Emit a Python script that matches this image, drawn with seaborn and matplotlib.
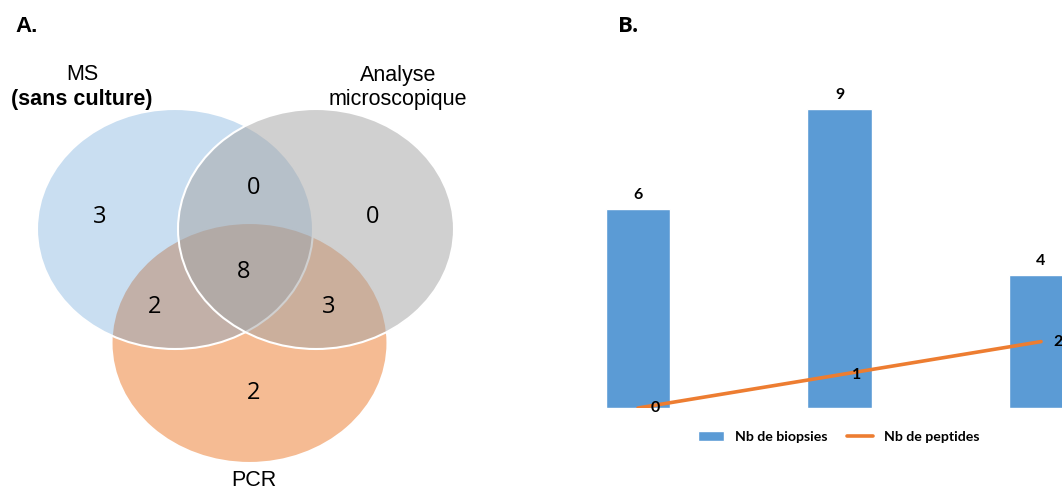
import matplotlib.pyplot as plt
import numpy as np
import seaborn as sns
from matplotlib.patches import Ellipse, Patch
from matplotlib.lines import Line2D

sns.set_style('white')
plt.rcParams['font.family'] = ['Liberation Sans', 'DejaVu Sans']
plt.rcParams['text.color'] = 'black'

# panel A - venn counts
venn_regions = ['MS seul', 'Micro seul', 'PCR seul', 'MS+Micro', 'MS+PCR', 'Micro+PCR', 'Tous']
venn_counts = [3, 0, 2, 0, 2, 3, 8]

# panel B - bars + line
groups = ['G1', 'G2', 'G3']
biopsies = [6, 9, 4]
peptides = [0, 1, 2]

blue = '#5b9bd5'
orange = '#ed7d31'
grey = '#a5a5a5'

fig = plt.figure(figsize=(10.62, 4.92), dpi=100)

# ---- A. venn, axes in pixel units
axa = fig.add_axes([0, 0, 531 / 1062, 1])
axa.set_xlim(0, 531)
axa.set_ylim(492, 0)
axa.axis('off')

circles = [((249.5, 343), orange, 0.52),   # PCR (drawn first)
           ((175, 229), blue, 0.33),       # MS
           ((316, 229), grey, 0.52)]       # microscopie
for (cx, cy), col, a in circles:
    fc = plt.matplotlib.colors.to_rgba(col, a)
    axa.add_patch(Ellipse((cx, cy), 276, 240, facecolor=fc, edgecolor='white', lw=1.5))

region_pos = [(100, 217), (373, 217), (254, 393), (254, 188), (155, 307), (329, 307), (244, 272)]
for (x, y), n in zip(region_pos, venn_counts):
    axa.text(x, y, str(n), ha='center', va='center', fontsize=17, family=['Open Sans', 'DejaVu Sans'])

axa.text(82, 75, 'MS', ha='center', va='center', fontsize=15.5)
axa.text(82, 100, '(sans culture)', ha='center', va='center', fontsize=15.5, fontweight='bold')
axa.text(398, 75, 'Analyse', ha='center', va='center', fontsize=15.5)
axa.text(398, 100, 'microscopique', ha='center', va='center', fontsize=15.5)
axa.text(254, 481, 'PCR', ha='center', va='center', fontsize=15.5)
axa.text(15, 27, 'A.', ha='left', va='center', fontsize=16, fontweight='bold')

# ---- B. bars
px = 33.2
axb = fig.add_axes([580 / 1062, 84 / 492, 482 / 1062, 348 / 492])
sns.barplot(x=groups, y=biopsies, color=blue, width=0.32, saturation=1, ax=axb)
sns.lineplot(x=np.arange(len(groups)), y=peptides, color=orange, lw=2.6, ax=axb)
axb.set_xlim(-0.288, 2.104)
axb.set_ylim(0, 348 / px)
axb.axis('off')

lab_font = dict(family=['Lato', 'DejaVu Sans'], fontweight='bold', fontsize=11.5)
axb.bar_label(axb.containers[0], padding=5, **lab_font)
for i, v in enumerate(peptides):
    axb.annotate(str(v), (i, v), xytext=(9, 0), textcoords='offset points',
                 ha='left', va='center', **lab_font)

fig.text(618 / 1062, 1 - 26 / 492, 'B.', ha='left', va='center', fontsize=16,
         fontweight='bold', family=['Open Sans', 'DejaVu Sans'])

handles = [Patch(facecolor=blue), Line2D([0], [0], color=orange, lw=2.6)]
fig.legend(handles, ['Nb de biopsies', 'Nb de peptides'], loc='center',
           bbox_to_anchor=(839 / 1062, 1 - 437 / 492), ncol=2, frameon=False,
           prop=dict(family=['Lato', 'DejaVu Sans'], weight='bold', size=10.2),
           handlelength=1.8, handleheight=0.7, columnspacing=1.4, handletextpad=0.8)

fig.savefig('out.png', dpi=100)
